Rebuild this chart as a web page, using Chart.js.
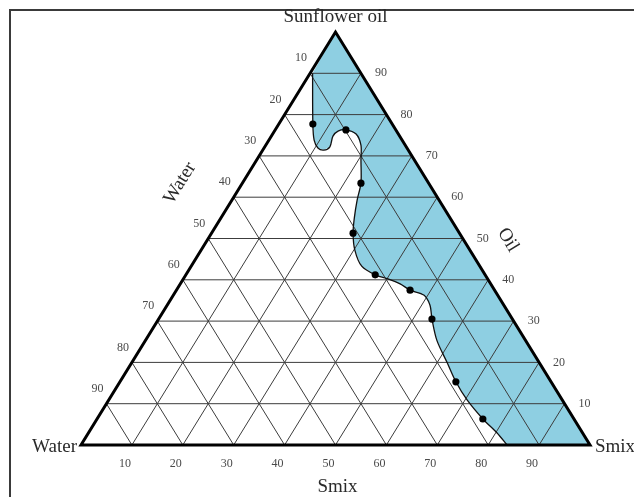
<!DOCTYPE html>
<html>
<head>
<meta charset="utf-8">
<script src="https://cdn.jsdelivr.net/npm/chart.js@4.4.1/dist/chart.umd.min.js"></script>
<style>
  html, body { margin: 0; padding: 0; background: #fff; }
  #wrap { width: 634px; height: 497px; position: relative; }
</style>
</head>
<body>
<div id="wrap"><canvas id="ternario"></canvas></div>
<script>
// valores de las marcas en los tres lados (%)
const tickValues = [10, 20, 30, 40, 50, 60, 70, 80, 90];

const boundaryOil  = [90.0, 77.7, 73.8, 71.9, 71.4, 72.2, 74.8, 76.0, 76.3, 75.3, 72.6, 69.0, 63.4, 59.3, 55.0, 51.3,
                      47.2, 43.3, 41.2, 40.2, 39.0, 37.5, 36.3, 33.9, 30.5, 25.4, 19.9, 15.3, 10.9, 6.3, 2.9, 0];
const boundarySmix = [0.5, 6.7, 8.9, 10.6, 12.0, 12.8, 12.1, 12.5, 13.9, 16.4, 18.7, 20.5, 23.3, 24.6, 26.2, 27.8,
                      30.2, 33.5, 37.2, 40.2, 43.2, 45.9, 49.2, 51.6, 53.7, 57.2, 62.0, 66.0, 70.4, 75.8, 80.3, 83.7];

// puntos experimentales
const pointOil  = [77.7, 76.3, 63.4, 51.3, 41.2, 37.5, 30.5, 15.3, 6.3];
const pointSmix = [6.7, 13.9, 23.3, 27.8, 37.2, 45.9, 53.7, 66.0, 75.8];

const titleTop = 'Sunflower oil';
const titleLeftVertex = 'Water';
const titleRightVertex = 'Smix';
const titleBottom = 'Smix';
const titleLeftSide = 'Water';
const titleRightSide = 'Oil';

// composición -> coordenadas cartesianas (agua = resto)
function toXY(oil, smix) {
    return { x: smix / 100 + oil / 200, y: oil / 100 };
}

const curva = boundaryOil.map((o, i) => toXY(o, boundarySmix[i]));
const relleno = curva.concat([toXY(0, 100), toXY(100, 0)]);

const datasets = [];

datasets.push({
    data: relleno, showLine: true, fill: 'shape',
    backgroundColor: '#8ecfe2', borderWidth: 0, pointRadius: 0, tension: 0, order: 50
});

// rejilla
tickValues.forEach(t => {
    const lineas = [
        [toXY(t, 0), toXY(t, 100 - t)],          // aceite constante
        [toXY(0, t), toXY(100 - t, t)],          // Smix constante
        [toXY(0, 100 - t), toXY(100 - t, 0)]     // agua constante
    ];
    lineas.forEach(l => datasets.push({
        data: l, showLine: true, borderColor: '#3c3c3c', borderWidth: 1,
        pointRadius: 0, fill: false, order: 40
    }));
});

datasets.push({
    data: curva, showLine: true, borderColor: '#111', borderWidth: 1.3,
    pointRadius: 0, fill: false, tension: 0.3, order: 20
});

// lados del triángulo
datasets.push({
    data: [toXY(0, 0), toXY(0, 100), toXY(100, 0), toXY(0, 0), toXY(0, 100)],
    showLine: true, borderColor: '#000', borderWidth: 3, borderJoinStyle: 'miter',
    pointRadius: 0, fill: false, order: 10
});

datasets.push({
    data: pointOil.map((o, i) => toXY(o, pointSmix[i])),
    showLine: false, pointRadius: 3.6, pointBackgroundColor: '#000', pointBorderWidth: 0, order: 5
});

const etiquetas = {
    id: 'etiquetas',
    beforeDraw(chart) {
        const ctx = chart.ctx;
        ctx.save();
        ctx.strokeStyle = '#3a3a3a';
        ctx.lineWidth = 2;
        ctx.beginPath();
        ctx.moveTo(10, chart.height + 5);
        ctx.lineTo(10, 10);
        ctx.lineTo(chart.width + 5, 10);
        ctx.stroke();
        ctx.restore();
    },
    afterDraw(chart) {
        const { ctx, scales: { x, y } } = chart;
        const px = (oil, smix) => {
            const p = toXY(oil, smix);
            return [x.getPixelForValue(p.x), y.getPixelForValue(p.y)];
        };
        ctx.save();
        ctx.fillStyle = '#4a4a4a';
        ctx.font = '12px "Liberation Serif"';
        ctx.textAlign = 'center';
        ctx.textBaseline = 'middle';
        tickValues.forEach(t => {
            const [bx, by] = px(0, t);
            ctx.fillText(t, bx - 7, by + 19);
            const [lx, ly] = px(100 - t, 0);
            ctx.fillText(t, lx - 9, ly - 15);
            const [rx, ry] = px(t, 100 - t);
            ctx.fillText(t, rx + 20, ry);
        });

        ctx.fillStyle = '#2a2a2a';
        ctx.font = '19px "Liberation Serif"';
        const [tx, ty] = px(100, 0);
        ctx.fillText(titleTop, tx, ty - 15);
        const [wx, wy] = px(0, 0);
        ctx.textAlign = 'right';
        ctx.fillText(titleLeftVertex, wx - 4, wy + 2);
        const [sx, sy] = px(0, 100);
        ctx.textAlign = 'left';
        ctx.fillText(titleRightVertex, sx + 5, sy + 2);
        ctx.textAlign = 'center';
        ctx.fillText(titleBottom, (wx + sx) / 2 + 2, wy + 42);

        const ang = Math.atan2(wy - ty, wx - tx);
        ctx.save();
        ctx.translate(180, 183);
        ctx.rotate(ang - Math.PI);
        ctx.fillText(titleLeftSide, 0, 0);
        ctx.restore();
        ctx.save();
        ctx.translate(508, 240);
        ctx.rotate(Math.atan2(sy - ty, sx - tx));
        ctx.fillText(titleRightSide, 0, 0);
        ctx.restore();
        ctx.restore();
    }
};

new Chart(document.getElementById('ternario'), {
    type: 'scatter',
    data: { datasets },
    options: {
        responsive: true,
        maintainAspectRatio: false,
        animation: false,
        events: [],
        layout: { padding: { left: 81, right: 44, top: 32, bottom: 52 } },
        scales: {
            x: { type: 'linear', min: 0, max: 1, display: false },
            y: { type: 'linear', min: 0, max: 1, display: false }
        },
        plugins: { legend: { display: false }, tooltip: { enabled: false } },
        elements: { line: { clip: false } },
        datasets: { scatter: { clip: false } }
    },
    plugins: [etiquetas]
});
</script>
</body>
</html>
